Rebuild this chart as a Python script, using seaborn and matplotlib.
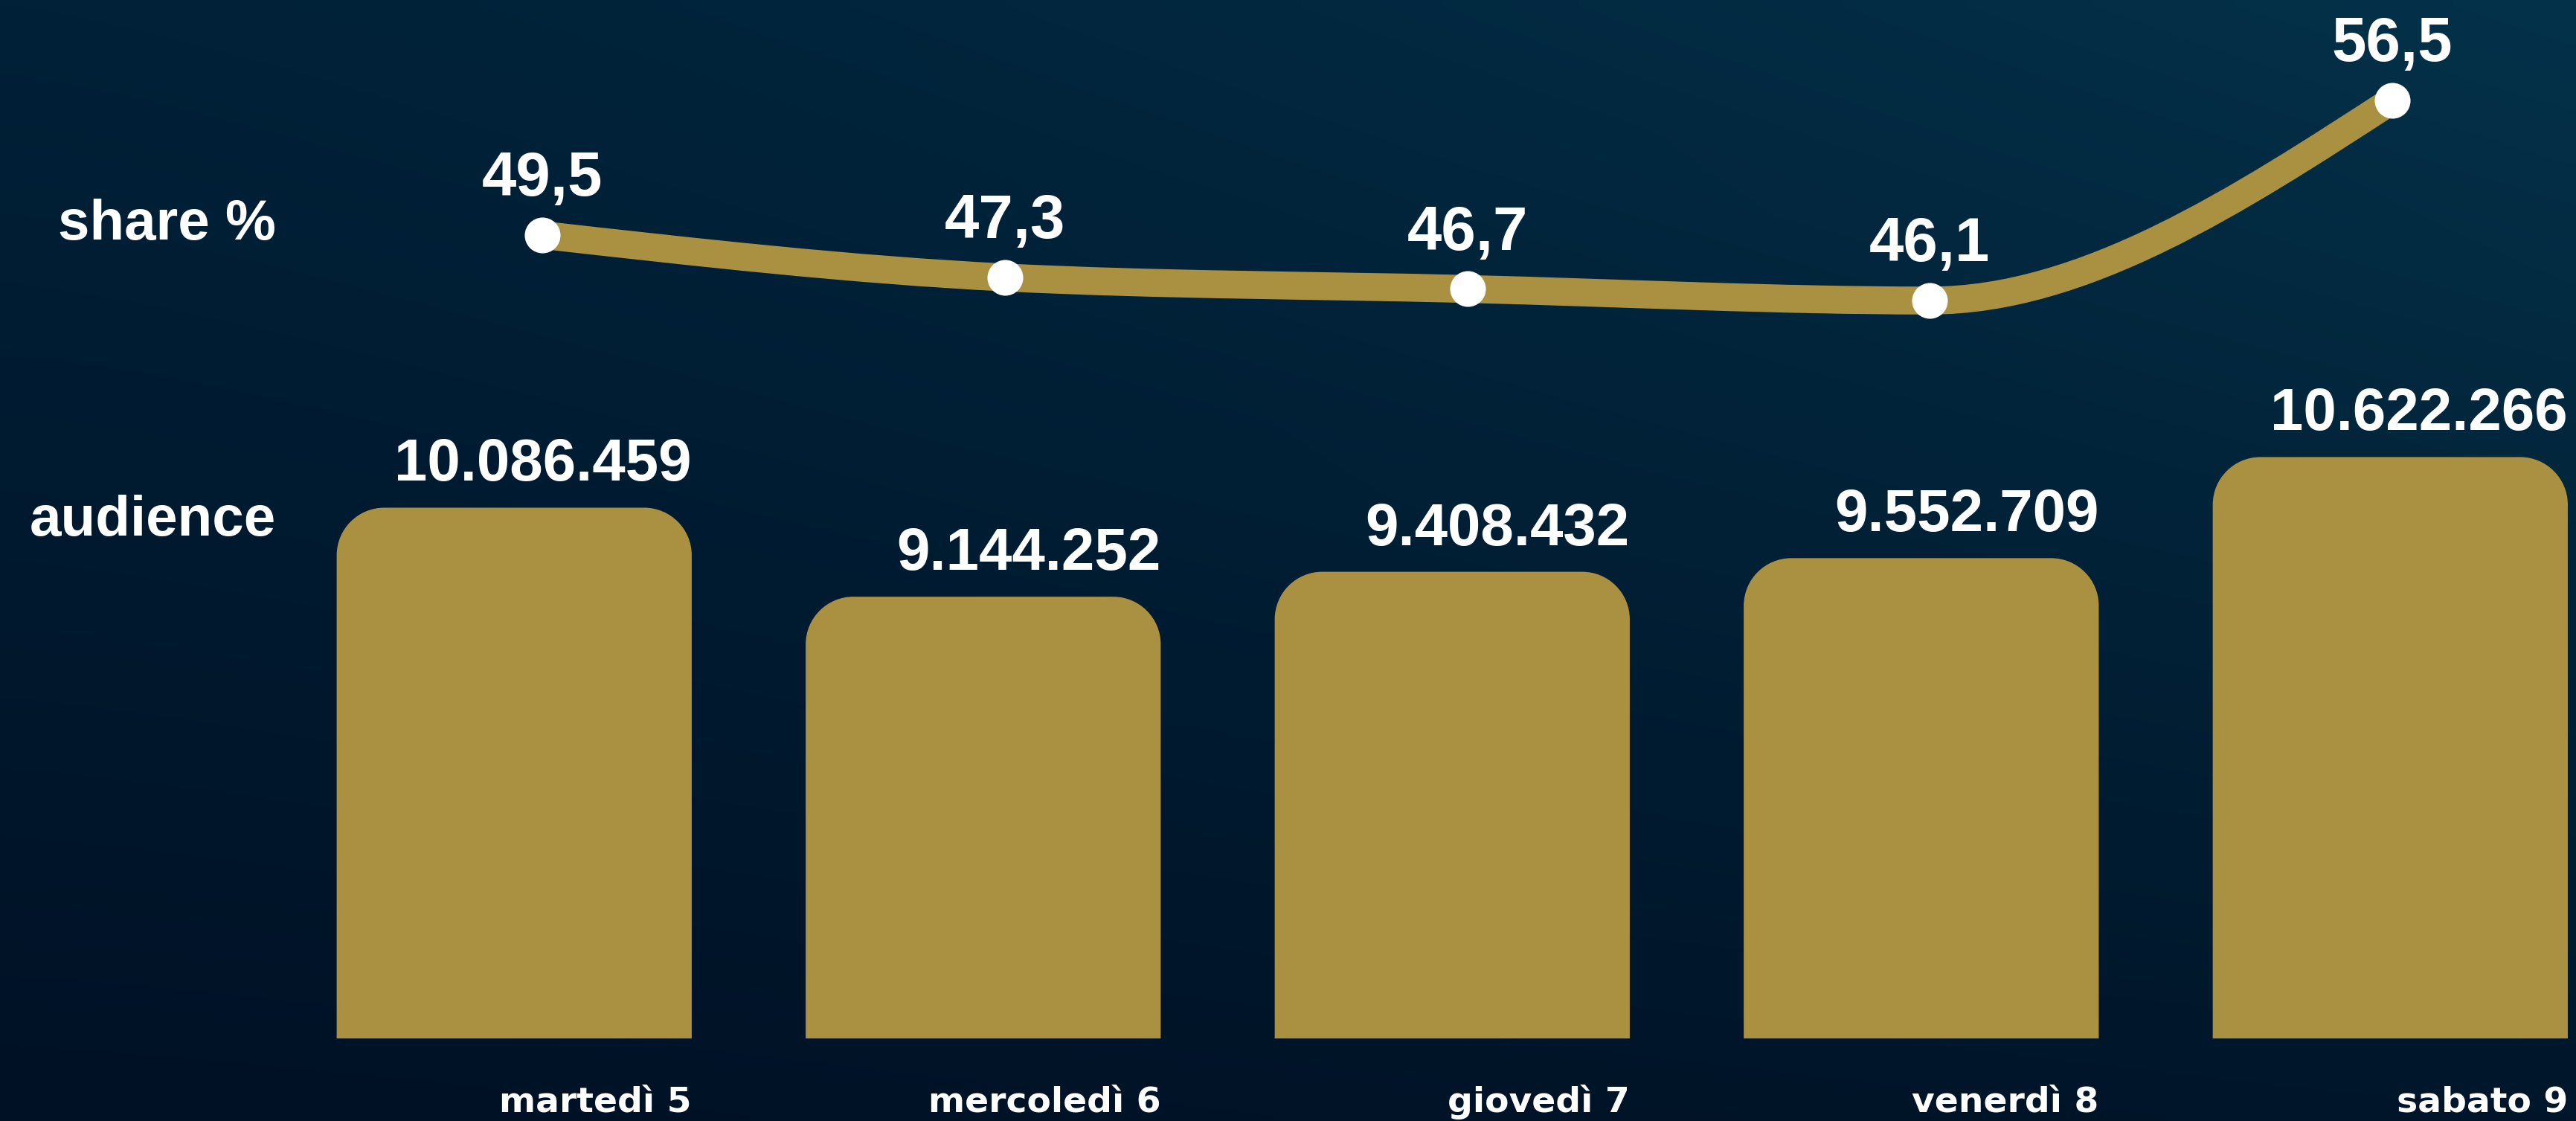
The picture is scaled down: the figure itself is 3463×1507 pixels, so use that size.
import numpy as np
import matplotlib
matplotlib.use("Agg")
import matplotlib.pyplot as plt
import seaborn as sns
from matplotlib.path import Path
from matplotlib.patches import PathPatch

# --- data ---
days = ["martedì 5", "mercoledì 6", "giovedì 7", "venerdì 8", "sabato 9"]
audience = [10086459, 9144252, 9408432, 9552709, 10622266]
share = [49.5, 47.3, 46.7, 46.1, 56.5]

GOLD = "#AA9142"
W, H, DPI = 3463, 1507, 100

sns.set_style("white")
plt.rcParams["font.family"] = ["Liberation Sans", "DejaVu Sans"]

fig = plt.figure(figsize=(W / DPI, H / DPI), dpi=DPI)

# background gradient (dark navy, lighter towards the top right)
bg = fig.add_axes([0, 0, 1, 1], zorder=-1)
gx, gy = np.meshgrid(np.linspace(0, 1, 200), np.linspace(0, 1, 100))
tl = np.array([0, 33, 56]) / 255
tr = np.array([4, 50, 74]) / 255
bl = np.array([0, 17, 37]) / 255
br = np.array([0, 22, 42]) / 255
wx = gx[..., None] ** 1.3
wy = gy[..., None]
img = (tl * (1 - wx) * (1 - wy) + tr * wx * (1 - wy)
       + bl * (1 - wx) * wy + br * wx * wy)
bg.imshow(img, extent=[0, 1, 0, 1], aspect="auto", interpolation="bilinear")
bg.axis("off")

# main axes: bars
rect = [376 / W, 111 / H, 1 - 376 / W, 1 - 111 / H]
ax = fig.add_axes(rect)
ax.set_facecolor("none")
bar_w = 0.757
sns.barplot(x=days, y=audience, color=GOLD, saturation=1, width=bar_w,
            linewidth=0, ax=ax)
ax.set_xlim(-0.5, 4.396)
ax.set_ylim(4.469e6, 15.46e6)

# rounded top corners (circular arcs in screen space)
px_x = ax.bbox.width / 4.896
px_y = ax.bbox.height / (15.46e6 - 4.469e6)
rx, ry = 64 / px_x, 64 / px_y
k = 0.5523
bars = list(ax.patches)
for p in bars:
    x0, w, h = p.get_x(), p.get_width(), p.get_height()
    x1 = x0 + w
    p.remove()
    verts = [(x0, 0), (x0, h - ry),
             (x0, h - ry + k * ry), (x0 + rx - k * rx, h), (x0 + rx, h),
             (x1 - rx, h),
             (x1 - rx + k * rx, h), (x1, h - ry + k * ry), (x1, h - ry),
             (x1, 0), (x0, 0)]
    codes = [Path.MOVETO, Path.LINETO,
             Path.CURVE4, Path.CURVE4, Path.CURVE4,
             Path.LINETO,
             Path.CURVE4, Path.CURVE4, Path.CURVE4,
             Path.LINETO, Path.CLOSEPOLY]
    ax.add_patch(PathPatch(Path(verts, codes), facecolor=GOLD,
                           edgecolor="none"))
    val = f"{int(h):,}".replace(",", ".")
    ax.annotate(val, xy=(x1, h), xytext=(0, 26), textcoords="offset points",
                ha="right", va="baseline", fontsize=57.5, fontweight="bold",
                color="white")

for i, d in enumerate(days):
    ax.annotate(d, xy=(i + bar_w / 2, 0), xycoords=("data", "axes fraction"),
                xytext=(0, -71), textcoords="offset points", ha="right",
                va="baseline", fontsize=34, fontweight="bold", color="white",
                family="DejaVu Sans")
ax.axis("off")

# share line on its own overlaid axes
ax2 = fig.add_axes(rect)
ax2.set_facecolor("none")
xs = np.arange(len(share), dtype=float)
ys = np.array(share, dtype=float)

# monotone cubic (d3 monotoneX style) tangents
sl = np.diff(ys) / np.diff(xs)
t = np.zeros_like(ys)
for j in range(1, len(ys) - 1):
    s0, s1 = sl[j - 1], sl[j]
    pp = (s0 + s1) / 2
    t[j] = (np.sign(s0) + np.sign(s1)) * min(abs(s0), abs(s1), 0.5 * abs(pp))
t[0] = (3 * sl[0] - t[1]) / 2
t[-1] = (3 * sl[-1] - t[-2]) / 2
verts = [(xs[0], ys[0])]
codes = [Path.MOVETO]
for j in range(len(ys) - 1):
    dx = (xs[j + 1] - xs[j]) / 3
    verts += [(xs[j] + dx, ys[j] + dx * t[j]),
              (xs[j + 1] - dx, ys[j + 1] - dx * t[j + 1]),
              (xs[j + 1], ys[j + 1])]
    codes += [Path.CURVE4] * 3
ax2.add_patch(PathPatch(Path(verts, codes), facecolor="none", edgecolor=GOLD,
                        lw=27, capstyle="butt", zorder=3))
sns.scatterplot(x=xs, y=ys, color="white", s=48 ** 2 * 0.52, linewidth=0,
                zorder=5, ax=ax2)
ax2.set_xlim(-0.568, 4.397)
ax2.set_ylim(7.8, 61.7)
for xv, yv in zip(xs, ys):
    ax2.annotate(f"{yv:.1f}".replace(".", ","), xy=(xv, yv), xytext=(0, 38),
                 textcoords="offset points", ha="center", va="baseline",
                 fontsize=60, fontweight="bold", color="white")
ax2.axis("off")

fig.text(371 / W, 1 - 322 / H, "share %", ha="right", va="baseline",
         fontsize=55, fontweight="bold", color="white")
fig.text(371 / W, 1 - 720 / H, "audience", ha="right", va="baseline",
         fontsize=55, fontweight="bold", color="white")

fig.savefig("out.png", dpi=DPI)
